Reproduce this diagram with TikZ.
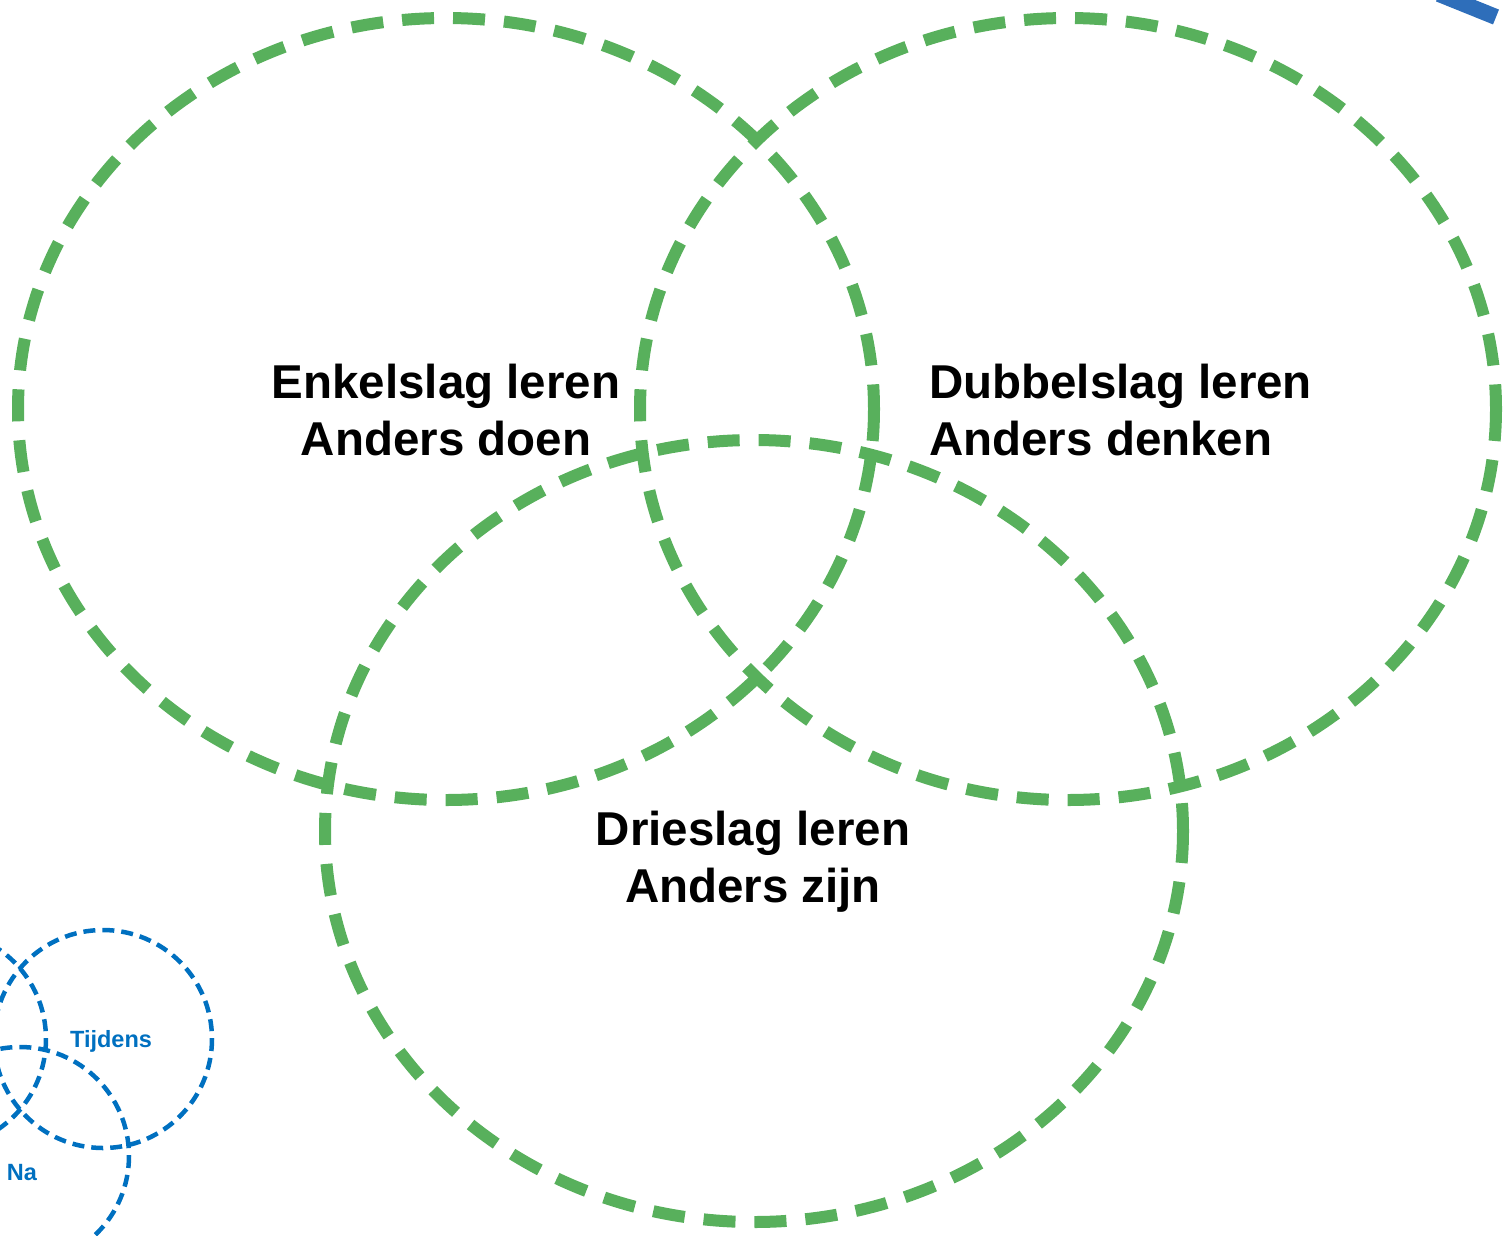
\documentclass[tikz,border=0pt]{standalone}
\usepackage{fontspec}
\setmainfont{Liberation Sans}
\definecolor{vgreen}{RGB}{88,176,92}
\definecolor{vblue}{RGB}{0,112,192}
\definecolor{mblue}{RGB}{46,110,186}
\begin{document}
\begin{tikzpicture}[x=1pt,y=-1pt,
  bigring/.style={draw=vgreen,line width=12pt,dash pattern=on 32pt off 19pt},
  smallring/.style={draw=vblue,line width=4.5pt,dash pattern=on 12pt off 7pt},
  bigtxt/.style={font=\fontsize{47.5}{57}\selectfont\bfseries,text=black,inner sep=0pt},
  smalltxt/.style={font=\fontsize{23.5}{27}\selectfont\bfseries,text=vblue,inner sep=0pt}]
\useasboundingbox (0,0) rectangle (1507,1235);
\clip (0,0) rectangle (1507,1235);
% large Venn
\draw[bigring] (446,409) ellipse [x radius=428,y radius=391];
\draw[bigring] (1068,409) ellipse [x radius=428,y radius=391];
\draw[bigring] (754,831) ellipse [x radius=429,y radius=391];
\node[bigtxt,align=center] (enkel) at (446,410) {Enkelslag leren\\Anders doen};
\node[bigtxt,align=left,anchor=west] (dubbel) at (929,410) {Dubbelslag leren\\Anders denken};
\node[bigtxt,align=center] (drie) at (753,862) {Drieslag leren\\Anders zijn};
% small Venn
\draw[smallring] (-63,1039) circle [radius=109];
\draw[smallring] (103,1039) circle [radius=109];
\draw[smallring] (20,1156) circle [radius=109];
\node[smalltxt] (tijdens) at (111,1041) {Tijdens};
\node[smalltxt] (na) at (22,1173) {Na};
% blue mark top right
\draw[mblue,line width=16pt] (1439,-6) -- (1496,17);
\end{tikzpicture}
\end{document}
